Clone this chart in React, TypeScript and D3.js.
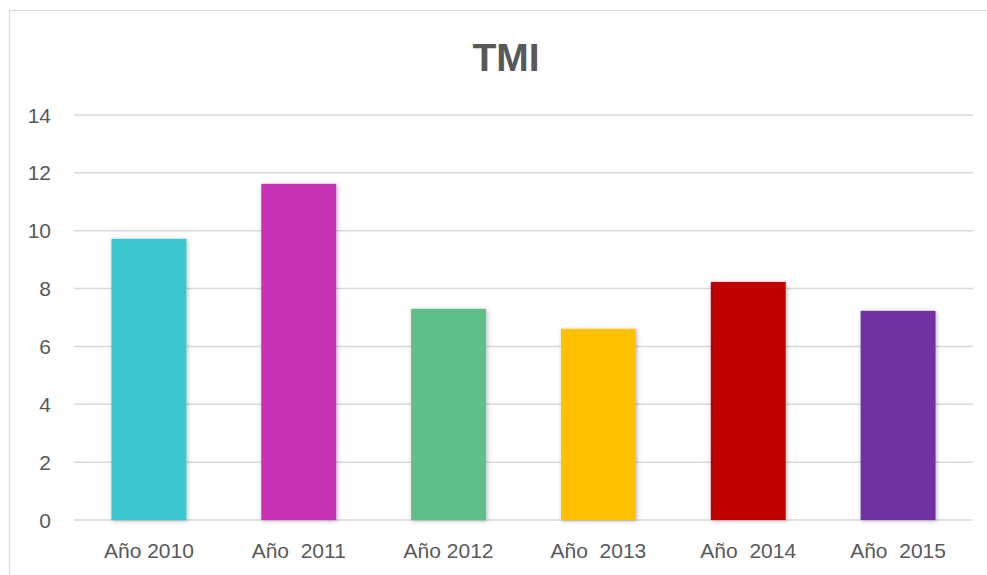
import React from "react";
import * as d3 from "d3";

const categories = ["Año 2010", "Año  2011", "Año 2012", "Año  2013", "Año  2014", "Año  2015"];
const values = [9.72, 11.62, 7.3, 6.61, 8.23, 7.23];
const colors = ["#3DC6CE", "#C831B4", "#5FBE8A", "#FFC000", "#C00000", "#7030A0"];
const yTicks = [0, 2, 4, 6, 8, 10, 12, 14];
const title = "TMI";

export default function App() {
  const W = 987, H = 575;
  const x = d3.scaleBand<string>().domain(categories).range([74, 973]).paddingInner(0.5).paddingOuter(0.25);
  const y = d3.scaleLinear().domain([0, 14]).range([520, 115]);
  const font = "'Liberation Sans', Arial, sans-serif";
  return (
    <svg width={W} height={H} style={{ position: "absolute", left: 0, top: 0, background: "#fff" }}>
      <defs>
        <filter id="sh" x="-20%" y="-5%" width="140%" height="110%">
          <feDropShadow dx="1" dy="1" stdDeviation="2" floodColor="#000" floodOpacity="0.3" />
        </filter>
      </defs>
      <rect x={9.5} y={10.5} width={1000} height={600} fill="#fff" stroke="#d9d9d9" strokeWidth={1.2} />
      <text x={506} y={71} textAnchor="middle" fontFamily={font} fontWeight="bold" fontSize={39} fill="#595959">{title}</text>
      {yTicks.map((t) => (
        <g key={t}>
          <line x1={74} x2={973} y1={y(t)} y2={y(t)} stroke="#d9d9d9" strokeWidth={1.5} />
          <text x={51} y={y(t)} dy="0.36em" textAnchor="end" fontFamily={font} fontSize={21} fill="#595959">{t}</text>
        </g>
      ))}
      {categories.map((c, i) => (
        <rect key={c} x={x(c)} y={y(values[i])} width={x.bandwidth()} height={y(0) - y(values[i])} fill={colors[i]} filter="url(#sh)" />
      ))}
      {categories.map((c) => (
        <text key={c} x={(x(c) as number) + x.bandwidth() / 2} y={558} textAnchor="middle" fontFamily={font} fontSize={21} fill="#595959" style={{ whiteSpace: "pre" }}>{c}</text>
      ))}
    </svg>
  );
}
